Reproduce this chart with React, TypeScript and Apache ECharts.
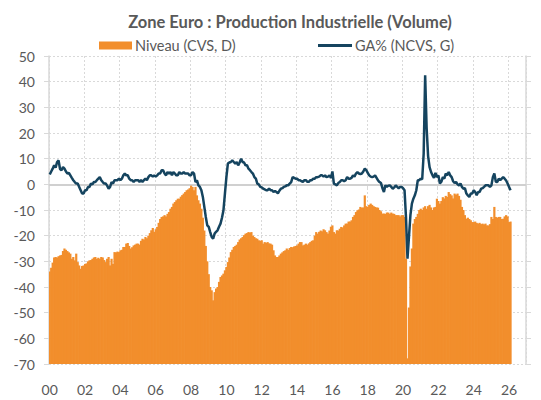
import React, { useEffect, useRef } from "react";
import * as echarts from "echarts";

// Monthly data, Jan 2000 .. Feb 2026 (left-axis units)
const niveau: number[] = [
  -34, -32.5, -30.5, -28.5, -28.3, -28.5, -28, -27.7, -27.5, -26, -25, -25.5,
  -26, -26.5, -27, -29, -28.3, -29.6, -27, -30.3, -31.6, -32.9, -31.8, -31.6,
  -31, -30.8, -30, -29.6, -29.5, -29, -28.5, -28.3, -29, -28.6, -29, -28.3,
  -28.5, -29.5, -30.3, -29, -28.3, -31.6, -29, -31, -26.4, -26.5, -26.2, -26.4,
  -25.7, -25.5, -24.4, -24.4, -23.1, -22.9, -24, -25, -24.5, -23.8, -23.5, -23.1,
  -23.1, -23.5, -22, -21.2, -21.5, -20.5, -21, -20, -19, -17.9, -17, -18.5,
  -17.5, -16.6, -15, -13.5, -12.7, -12.5, -12, -12.5, -11.5, -10.8, -9.5, -8.8,
  -7.5, -6.9, -6.2, -5.6, -5.6, -4.8, -4.2, -3.6, -3, -2.3, -2, -1.5,
  -0.5, -1, -2.3, -1, -4.3, -6.2, -7.5, -9.5, -13, -18, -24, -30,
  -35, -40, -41.3, -45.2, -42, -40.6, -40, -38, -36.1, -35.5, -34.8, -33.5,
  -32.2, -30.3, -28.5, -26.4, -25.5, -24.4, -24, -23.5, -22.5, -21.5, -21, -20.5,
  -19.8, -19.2, -19, -18.6, -18.8, -18.6, -20, -20.5, -21, -21.2, -21.8, -22,
  -21.8, -23.1, -22.5, -22.8, -22.5, -23, -23.1, -23.5, -25.7, -27.7, -28.3, -28.3,
  -27.7, -27, -26.5, -26, -25.7, -25, -25.5, -24.8, -24.4, -24.5, -24.2, -24,
  -23.8, -23.1, -22.5, -22.5, -23.8, -23.5, -23.1, -23.5, -23, -22.5, -22, -21.8,
  -20, -18.6, -19.2, -18.5, -18, -18.3, -17.5, -17.9, -18.6, -19.2, -18, -16.5,
  -16, -18.6, -19.2, -17.9, -18, -17.3, -16.6, -16.8, -16, -15.3, -15.3, -14.5,
  -14.5, -14, -12.7, -12, -10.8, -10.1, -9.8, -8.8, -9.1, -9, -4.3, -8.5,
  -8.8, -8, -7.5, -8, -8.5, -8.8, -9, -9.1, -10, -10.5, -11.4, -11.4,
  -11.5, -11, -11, -11.5, -11, -11.4, -11.5, -12, -12, -12, -12.5, -12,
  -12, -12.7, -29, -67.8, -48, -32, -25, -15.3, -13.5, -12.7, -11.5, -10,
  -9.5, -10, -9, -8.5, -9.5, -8.5, -8, -9, -10, -9, -8.8, -5.6,
  -6.5, -7.5, -6.5, -5, -5.5, -4.5, -4.9, -3, -3.8, -4.3, -5.5, -3.6,
  -4, -3.6, -4.5, -6, -8.8, -10, -12, -13.4, -13, -13.5, -14, -14.7,
  -14.7, -14.5, -15, -15.3, -15, -15.5, -15.3, -15.6, -15.3, -16, -16, -15.5,
  -12.7, -13.5, -8.8, -12.7, -13, -12.7, -12.7, -13.5, -13.4, -12.5, -12, -12.5,
  -14.7, -14.5,
];

const ga: number[] = [
  3.8, 5, 6.1, 7.4, 6.5, 8.7, 9.3, 6, 5.5, 6.7, 6.1, 5,
  4.2, 4.5, 3.5, 2.5, 1.6, 0.9, 0.3, 0.3, -1, -2.3, -3.6, -3.6,
  -2.3, -2.3, -1, -1, 0.3, 0, 0.9, 0.9, 1.6, 2.2, 2.8, 1.6,
  0.9, 0.3, 0.3, -0.5, -1.7, -1, 0.9, 0.3, 1.6, 1.6, 1.6, 2.2,
  1.6, 2.2, 3.5, 4.2, 3.5, 3.5, 2.2, 1.6, 1.6, 0.9, 1.6, 1.6,
  1.6, 1, 1.6, 1, 1.6, 2.2, 1.6, 2.8, 3.5, 3.5, 3, 3.5,
  3, 3.5, 4.2, 4.2, 5.5, 5.5, 4.2, 3.5, 4.8, 4.2, 4.8, 3.5,
  4.8, 4.2, 3.5, 3.5, 4.8, 4.2, 4.2, 4.8, 4.2, 4.2, 4.2, 3.5,
  3.5, 4.8, 4.2, 0.9, 1.5, -0.4, -1, -2.3, -4.9, -8.8, -12.7, -16,
  -16.6, -18.6, -20.5, -21.2, -19.2, -18.5, -17.9, -16.5, -15.3, -13, -10.1, -3.6,
  2.8, 8.1, 8.5, 8.7, 9.3, 8.7, 8.1, 8.7, 7.4, 8.5, 10, 8.7,
  8.5, 7.4, 7.4, 6.1, 5.5, 4.8, 4.2, 2.8, 2.2, 0.3, 0, -1,
  -1.2, -1.7, -2, -2.3, -2.3, -1.7, -2.3, -2.3, -3, -2.6, -3, -3.5,
  -2.5, -1.7, -1.5, -1, -0.8, -0.4, -0.4, 0.3, 0.9, 2.8, 2.5, 2.2,
  2.2, 1.6, 1.6, 1.2, 1, 1.6, 1.6, 1, 1, 1.6, 1.6, 2.2,
  2.2, 2.8, 2.8, 3, 3.5, 3.5, 3, 3.5, 2.8, 3, 3.5, 2.5,
  5, 0.3, 0, -0.4, 0.5, 0.9, 1.6, 1.6, 1.2, 1.6, 2.8, 2.2,
  2.2, 2.5, 3.5, 3, 4.2, 4.8, 4.2, 4, 4.2, 5, 6.1, 5.5,
  4.5, 3.5, 3, 2.8, 3, 3.5, 2.5, 1.5, 0.9, 0.5, -1.5, -3,
  -0.4, -1, -0.5, -0.4, -1, -1.7, -1.2, -0.4, -1, -1.5, -1, -1,
  -1.5, -2.3, -13, -29, -20.5, -12, -7.5, -5.6, -4.3, -2.3, 1.6, 1.6,
  2.2, 2, 12, 42.5, 22, 11, 6.7, 4.8, 3.5, 2.5, 4.5, 2.8,
  3.5, 0.3, 1, 2.8, 2.2, 4.2, 3.5, 4.8, 3.5, 2.8, 1.2, 0.5,
  0.9, 0, -0.4, 0.3, -1, -1.7, -1.5, -3.6, -4.3, -4.9, -3.6, -3.6,
  -2.3, -3, -4.3, -3, -3, -1.7, -1.5, -1, -0.4, -0.4, -0.4, -1,
  -0.4, 2.8, 4.2, 1, 0.9, 2.2, 1.6, 2.2, 2.8, 2.2, 1.5, 0.3,
  -1, -2.3,
];

const xTickLabels: string[] = [
  "00", "02", "04", "06", "08", "10", "12", "14", "16", "18", "20", "22", "24", "26",
];

const START_YEAR = 2000;
const N_MONTHS = 27 * 12; // axis spans Jan 2000 .. Dec 2026
const categories: string[] = [];
for (let i = 0; i < N_MONTHS; i++) {
  const y = START_YEAR + Math.floor(i / 12);
  const m = (i % 12) + 1;
  categories.push(`${y}-${m < 10 ? "0" + m : m}`);
}

const LEFT_MIN = -70;
const LEFT_MAX = 50;

const TEXT = "#595959";
const GRID = "#d9d9d9";
const FONT = "Lato, 'Open Sans', sans-serif";
const ORANGE = "#F28E2C";
const NAVY = "#15445F";

export default function App() {
  const ref = useRef<HTMLDivElement>(null);
  useEffect(() => {
    if (!ref.current) return;
    const chart = echarts.init(ref.current, undefined, { renderer: "svg" });
    const every2y = (index: number) => index % 24 === 0;
    chart.setOption({
      animation: false,
      backgroundColor: "#ffffff",
      textStyle: { fontFamily: FONT },
      title: {
        text: "Zone Euro : Production Industrielle (Volume)",
        left: 285,
        top: 8,
        textAlign: "center",
        textStyle: { fontFamily: FONT, fontSize: 16.5, fontWeight: "bold", color: TEXT },
      },
      legend: [
        {
          data: [{ name: "Niveau (CVS, D)", icon: "rect" }],
          left: 94,
          top: 33,
          itemWidth: 33,
          itemHeight: 8,
          itemGap: 3,
          textStyle: { fontFamily: FONT, fontSize: 14.5, color: TEXT, padding: [0, 0, 0, -2] },
        },
        {
          data: [{ name: "GA% (NCVS, G)", icon: "rect" }],
          left: 313,
          top: 33,
          itemWidth: 34,
          itemHeight: 3,
          textStyle: { fontFamily: FONT, fontSize: 14.5, color: TEXT, padding: [0, 0, 0, -2] },
        },
      ],
      grid: { left: 49, right: 15, top: 56, bottom: 36, containLabel: false },
      xAxis: {
        type: "category",
        data: categories,
        boundaryGap: true,
        axisLine: { show: true, lineStyle: { color: GRID, width: 1.5 } },
        axisTick: { show: true, interval: every2y, length: 5, lineStyle: { color: GRID } },
        axisLabel: {
          interval: every2y,
          margin: 18,
          color: TEXT,
          fontSize: 14,
          fontFamily: FONT,
          formatter: (_v: string, index: number) =>
            index % 24 === 0 ? xTickLabels[index / 24] ?? "" : "",
        },
        splitLine: {
          show: true,
          interval: every2y,
          lineStyle: { color: GRID, type: [2, 2], width: 1 },
        },
      },
      yAxis: [
        {
          type: "value",
          min: LEFT_MIN,
          max: LEFT_MAX,
          interval: 10,
          position: "left",
          axisLine: { show: true, onZero: false, lineStyle: { color: GRID, width: 1.5 } },
          axisTick: { show: true, length: 5, lineStyle: { color: GRID } },
          axisLabel: { color: TEXT, fontSize: 14, fontFamily: FONT, margin: 14 },
          splitLine: { show: true, lineStyle: { color: GRID, type: [2, 2], width: 1 } },
        },
        {
          type: "value",
          min: 0,
          max: LEFT_MAX - LEFT_MIN,
          interval: 10,
          position: "right",
          axisLine: { show: true, onZero: false, lineStyle: { color: GRID, width: 1.5 } },
          axisTick: { show: true, length: 5, lineStyle: { color: GRID } },
          axisLabel: { show: false },
          splitLine: { show: false },
        },
      ],
      series: [
        {
          name: "Niveau (CVS, D)",
          type: "bar",
          yAxisIndex: 1,
          data: niveau.map((v) => v - LEFT_MIN),
          barWidth: 2.2,
          barGap: "0%",
          itemStyle: { color: ORANGE },
          z: 2,
        },
        {
          name: "GA% (NCVS, G)",
          type: "line",
          yAxisIndex: 0,
          data: ga,
          symbol: "none",
          lineStyle: { color: NAVY, width: 2.5 },
          itemStyle: { color: NAVY },
          z: 4,
          markLine: {
            silent: true,
            symbol: "none",
            label: { show: false },
            lineStyle: { color: "#d0d0d0", width: 2, type: "solid" },
            data: [{ yAxis: 0 }],
            z: 1,
          },
        },
      ],
    });
    return () => chart.dispose();
  }, []);
  return (
    <div
      ref={ref}
      style={{ position: "fixed", left: 0, top: 0, width: 541, height: 400 }}
    />
  );
}
